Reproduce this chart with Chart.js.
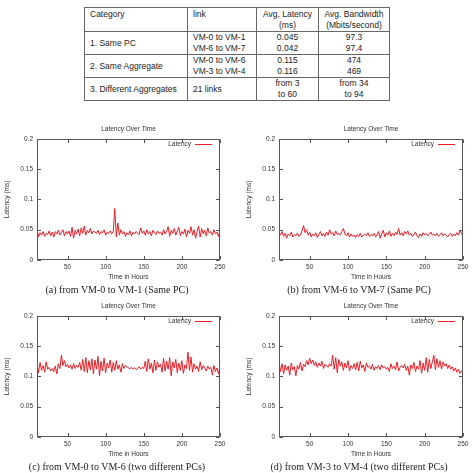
<!DOCTYPE html>
<html>
<head>
<meta charset="utf-8">
<script src="https://cdn.jsdelivr.net/npm/chart.js@4/dist/chart.umd.min.js"></script>
<style>
  html, body { margin:0; padding:0; background:#fff; }
  #page { position:relative; width:472px; height:473px; overflow:hidden; background:#fff; }
  table { position:absolute; left:84px; top:7px; width:305px; border-collapse:collapse; table-layout:fixed;
          font-family:"Liberation Sans", Arial, sans-serif; font-size:8.5px; line-height:11px; color:#222; }
  td { border:1px solid #666; padding:0 5px; vertical-align:middle; box-sizing:border-box; }
  tr.hd td { vertical-align:top; height:23px; padding-top:1px; }
  tr.rw td { height:22px; }
  td.c { text-align:center; padding:0 2px; }
  canvas { position:absolute; }
  .cap { position:absolute; font-family:"Liberation Serif", "Times New Roman", serif; font-size:10px; color:#222;
         white-space:nowrap; transform:translateX(-50%); line-height:10px; }
</style>
</head>
<body>
<div id="page">
  <table id="tbl">
    <colgroup><col style="width:103px"><col style="width:69px"><col style="width:62px"><col style="width:71px"></colgroup>
    <tbody id="tbody"></tbody>
  </table>
  <canvas id="c1" width="236" height="165" style="left:0px;top:120px"></canvas>
  <canvas id="c2" width="230" height="165" style="left:242px;top:120px"></canvas>
  <canvas id="c3" width="236" height="165" style="left:0px;top:297px"></canvas>
  <canvas id="c4" width="230" height="165" style="left:242px;top:297px"></canvas>
  <div class="cap" style="left:117px;top:285px">(a) from VM-0 to VM-1 (Same PC)</div>
  <div class="cap" style="left:359px;top:285px">(b) from VM-6 to VM-7 (Same PC)</div>
  <div class="cap" style="left:117px;top:462px">(c) from VM-0 to VM-6 (two different PCs)</div>
  <div class="cap" style="left:359px;top:462px">(d) from VM-3 to VM-4 (two different PCs)</div>
</div>
<script>
// ---- table data ----
const tableHeader = ["Category", "link", "Avg. Latency<br>(ms)", "Avg. Bandwidth<br>(Mbits/second)"];
const tableCategories = ["1. Same PC", "2. Same Aggregate", "3. Different Aggregates"];
const tableLinks = ["VM-0 to VM-1<br>VM-6 to VM-7", "VM-0 to VM-6<br>VM-3 to VM-4", "21 links"];
const tableLatency = ["0.045<br>0.042", "0.115<br>0.116", "from 3<br>to 60"];
const tableBandwidth = ["97.3<br>97.4", "474<br>469", "from 34<br>to 94"];

// ---- chart data ----
const hours = [10,12,14,16,18,20,22,24,26,28,30,32,34,36,38,40,42,44,46,48,50,52,54,56,58,60,62,64,66,68,70,
  72,74,76,78,80,82,84,86,88,90,92,94,96,98,100,102,104,106,108,110,112,114,116,118,120,122,124,126,128,130,
  132,134,136,138,140,142,144,146,148,150,152,154,156,158,160,162,164,166,168,170,172,174,176,178,180,182,184,186,188,190,
  192,194,196,198,200,202,204,206,208,210,212,214,216,218,220,222,224,226,228,230,232,234,236,238,240,242,244,246,248,250];
const xTickLabels = [50, 100, 150, 200, 250];
const yTickLabels = [0, 0.05, 0.1, 0.15, 0.2];

const latencyA = [0.050,0.038,0.045,0.041,0.047,0.039,0.044,0.042,0.048,0.040,0.046,
  0.038,0.047,0.043,0.049,0.041,0.045,0.050,0.040,0.047,0.043,
  0.048,0.039,0.054,0.036,0.049,0.043,0.051,0.040,0.053,0.044,
  0.056,0.041,0.049,0.045,0.052,0.043,0.048,0.046,0.044,0.049,
  0.042,0.047,0.045,0.050,0.041,0.046,0.044,0.048,0.043,0.047,
  0.085,0.038,0.061,0.041,0.050,0.043,0.047,0.039,0.045,0.042,
  0.048,0.040,0.046,0.043,0.047,0.044,0.042,0.053,0.044,0.048,
  0.041,0.050,0.043,0.047,0.040,0.049,0.045,0.042,0.048,0.044,
  0.046,0.041,0.050,0.043,0.047,0.055,0.039,0.049,0.044,0.052,
  0.041,0.048,0.054,0.040,0.047,0.043,0.051,0.038,0.049,0.044,
  0.055,0.041,0.050,0.036,0.047,0.056,0.038,0.052,0.043,0.049,
  0.040,0.053,0.044,0.047,0.041,0.050,0.043,0.046,0.039,0.049];
const latencyB = [0.045,0.041,0.047,0.039,0.044,0.036,0.043,0.040,0.046,0.038,0.042,
  0.040,0.044,0.039,0.041,0.048,0.057,0.045,0.050,0.041,0.046,
  0.038,0.043,0.040,0.045,0.037,0.042,0.047,0.040,0.044,0.039,
  0.046,0.041,0.050,0.043,0.045,0.040,0.048,0.042,0.044,0.041,
  0.047,0.052,0.043,0.040,0.045,0.038,0.043,0.039,0.041,0.037,
  0.042,0.039,0.044,0.038,0.041,0.043,0.040,0.045,0.039,0.042,
  0.040,0.044,0.038,0.042,0.047,0.036,0.043,0.049,0.038,0.045,
  0.041,0.048,0.039,0.044,0.040,0.046,0.042,0.052,0.041,0.045,
  0.040,0.047,0.043,0.048,0.041,0.044,0.039,0.042,0.046,0.040,
  0.037,0.043,0.039,0.045,0.041,0.044,0.040,0.042,0.046,0.041,
  0.043,0.040,0.044,0.039,0.042,0.045,0.040,0.043,0.041,0.038,
  0.042,0.044,0.039,0.043,0.040,0.045,0.041,0.048,0.044,0.039];
const latencyC = [0.120,0.106,0.123,0.110,0.118,0.107,0.124,0.112,0.115,0.109,0.113,
  0.108,0.117,0.104,0.121,0.113,0.135,0.118,0.126,0.116,0.120,
  0.114,0.119,0.112,0.121,0.113,0.118,0.115,0.123,0.110,0.128,
  0.108,0.131,0.106,0.126,0.111,0.129,0.104,0.127,0.112,0.133,
  0.101,0.125,0.109,0.130,0.106,0.122,0.114,0.127,0.107,0.123,
  0.110,0.126,0.112,0.119,0.107,0.121,0.113,0.118,0.116,0.114,
  0.113,0.115,0.112,0.114,0.111,0.113,0.116,0.112,0.115,0.113,
  0.125,0.108,0.129,0.112,0.122,0.106,0.127,0.110,0.124,0.115,
  0.120,0.107,0.130,0.109,0.125,0.112,0.131,0.101,0.124,0.114,
  0.128,0.106,0.122,0.110,0.126,0.105,0.119,0.113,0.140,0.110,
  0.132,0.107,0.121,0.112,0.117,0.108,0.124,0.111,0.118,0.114,
  0.109,0.117,0.112,0.115,0.102,0.118,0.108,0.114,0.104,0.116];
const latencyD = [0.124,0.108,0.121,0.104,0.119,0.110,0.117,0.102,0.122,0.111,0.116,
  0.101,0.118,0.112,0.123,0.109,0.120,0.116,0.126,0.119,0.130,
  0.121,0.127,0.118,0.124,0.115,0.122,0.117,0.125,0.113,0.120,
  0.118,0.115,0.121,0.117,0.135,0.112,0.131,0.106,0.128,0.117,
  0.124,0.110,0.122,0.114,0.126,0.109,0.118,0.113,0.121,0.111,
  0.123,0.109,0.125,0.114,0.119,0.108,0.122,0.115,0.117,0.112,
  0.120,0.110,0.116,0.113,0.118,0.111,0.119,0.114,0.116,0.112,
  0.115,0.108,0.121,0.113,0.117,0.111,0.124,0.109,0.115,0.118,
  0.114,0.120,0.110,0.117,0.102,0.119,0.113,0.123,0.108,0.117,
  0.112,0.126,0.105,0.122,0.110,0.131,0.107,0.128,0.113,0.124,
  0.135,0.111,0.129,0.115,0.126,0.112,0.124,0.117,0.121,0.113,
  0.119,0.112,0.116,0.109,0.114,0.107,0.112,0.105,0.109,0.111];

// ---- build table ----
(function(){
  const tb = document.getElementById('tbody');
  let h = '<tr class="hd">' + tableHeader.map((t,i)=>'<td'+(i>=2?' class="c"':'')+'>'+t+'</td>').join('') + '</tr>';
  for (let i=0;i<tableCategories.length;i++) {
    h += '<tr class="rw"><td>'+tableCategories[i]+'</td><td>'+tableLinks[i]+'</td><td class="c">'+tableLatency[i]+'</td><td class="c">'+tableBandwidth[i]+'</td></tr>';
  }
  tb.innerHTML = h;
})();

// ---- charts ----
const FONT = {family: '"Liberation Sans", Arial, sans-serif', size: 6.5, weight: 'normal'};
const TXT = '#333';

const frameTicks = {
  id: 'frameTicks',
  afterDatasetsDraw(chart) {
    const {ctx, chartArea: a, scales} = chart;
    const x = scales.x, y = scales.y;
    ctx.save();
    ctx.strokeStyle = '#555';
    ctx.lineWidth = 1;
    const L = 3.5;
    const l = Math.round(a.left) + 0.5, r = Math.round(a.right) - 0.5;
    const t = Math.round(a.top) + 0.5, b = Math.round(a.bottom) - 0.5;
    ctx.strokeRect(l, t, r - l, b - t);
    ctx.beginPath();
    x.ticks.forEach(tk => {
      const px = Math.round(x.getPixelForValue(tk.value)) + 0.5;
      ctx.moveTo(px, b); ctx.lineTo(px, b - L);
      ctx.moveTo(px, t); ctx.lineTo(px, t + L);
    });
    y.ticks.forEach(tk => {
      const py = Math.round(y.getPixelForValue(tk.value)) + 0.5;
      ctx.moveTo(l, py); ctx.lineTo(l + L, py);
      ctx.moveTo(r, py); ctx.lineTo(r - L, py);
    });
    ctx.stroke();
    // key (legend) inside top-right, gnuplot style: text then line sample
    const ds = chart.data.datasets[0];
    const ky = a.top + 5.5;
    const lineEnd = a.right - 8, lineStart = a.right - 25;
    ctx.font = FONT.size + 'px ' + FONT.family;
    ctx.fillStyle = TXT;
    ctx.textAlign = 'right';
    ctx.textBaseline = 'middle';
    ctx.fillText(ds.label, lineStart - 4, ky);
    ctx.strokeStyle = ds.borderColor;
    ctx.lineWidth = 1;
    ctx.beginPath();
    ctx.moveTo(lineStart, Math.round(ky) + 0.5);
    ctx.lineTo(lineEnd, Math.round(ky) + 0.5);
    ctx.stroke();
    ctx.restore();
  }
};

function makeChart(id, values, rightPad) {
  new Chart(document.getElementById(id), {
    type: 'line',
    data: {
      datasets: [{
        label: 'Latency',
        data: hours.map((h, i) => ({x: h, y: values[i]})),
        borderColor: '#ee1c24',
        backgroundColor: '#ee1c24',
        borderWidth: 1,
        pointRadius: 0,
        tension: 0,
        fill: false
      }]
    },
    options: {
      responsive: false,
      animation: false,
      devicePixelRatio: 1,
      layout: {padding: {left: 0, right: rightPad, top: 0, bottom: 0}},
      plugins: {
        title: {display: true, text: 'Latency Over Time', font: FONT, color: TXT, fullSize: false,
                padding: {top: 5, bottom: 6}},
        legend: {display: false},
        tooltip: {enabled: false}
      },
      scales: {
        x: {
          type: 'linear', min: 10, max: 250,
          afterBuildTicks: s => { s.ticks = xTickLabels.map(v => ({value: v})); },
          afterFit: s => { s.height = 25; },
          ticks: {font: FONT, color: TXT, padding: 3, maxRotation: 0, autoSkip: false},
          grid: {display: false, drawTicks: false},
          border: {display: false},
          title: {display: true, text: 'Time in Hours', font: FONT, color: TXT, padding: {top: 4, bottom: 4}}
        },
        y: {
          min: 0, max: 0.2,
          afterBuildTicks: s => { s.ticks = yTickLabels.map(v => ({value: v})); },
          afterFit: s => { s.width = 37; },
          ticks: {font: FONT, color: TXT, padding: 4, callback: v => String(Math.round(v * 100) / 100)},
          grid: {display: false, drawTicks: false},
          border: {display: false},
          title: {display: true, text: 'Latency (ms)', font: FONT, color: TXT, padding: {top: 3, bottom: 3}}
        }
      }
    },
    plugins: [frameTicks]
  });
}

makeChart('c1', latencyA, 16);
makeChart('c2', latencyB, 9);
makeChart('c3', latencyC, 16);
makeChart('c4', latencyD, 9);
</script>
</body>
</html>
